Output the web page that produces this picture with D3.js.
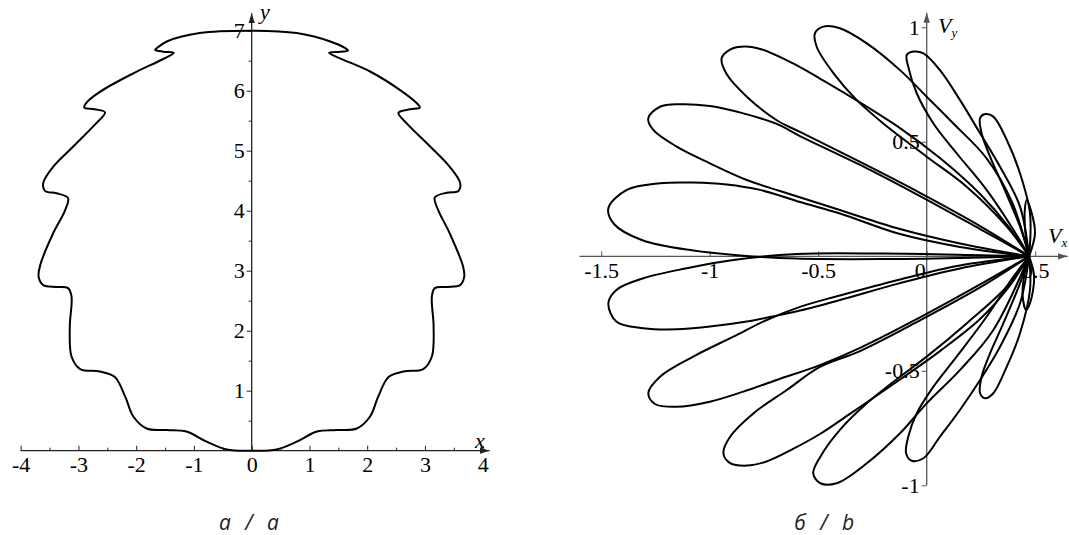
<!DOCTYPE html>
<html>
<head>
<meta charset="utf-8">
<script src="https://cdn.jsdelivr.net/npm/d3@7"></script>
<style>
  html, body { margin: 0; padding: 0; background: #fff; overflow: hidden; }
  svg { display: block; }
</style>
</head>
<body>
<svg id="chart" width="1069" height="535"></svg>
<script>
// ---------- panel a: trajectory (x, y) ----------
const xTicksA = [-4, -3, -2, -1, 0, 1, 2, 3, 4];
const xMinorA = [-3.5, -2.5, -1.5, -0.5, 0.5, 1.5, 2.5, 3.5];
const yTicksA = [1, 2, 3, 4, 5, 6, 7];
const yMinorA = [0.5, 1.5, 2.5, 3.5, 4.5, 5.5, 6.5];
const xAxisSpanA = [-4, 4.12];
const yAxisSpanA = [0, 7.29];

// right half of the trajectory, from the origin up to the top
const trajRight = [
  [0, 0], [0.43, 0.02], [0.78, 0.15], [1.13, 0.32], [1.47, 0.345], [1.82, 0.37],
  [2.05, 0.57], [2.19, 0.90], [2.37, 1.23], [2.63, 1.32], [2.97, 1.36], [3.12, 1.57],
  [3.15, 2.07], [3.12, 2.57], [3.17, 2.71], [3.38, 2.73], [3.61, 2.76], [3.68, 2.90],
  [3.66, 3.07], [3.43, 3.62], [3.23, 4.01], [3.17, 4.22], [3.38, 4.30], [3.58, 4.33],
  [3.61, 4.46], [3.43, 4.73], [3.09, 5.07], [2.68, 5.46], [2.54, 5.63], [2.74, 5.69],
  [2.91, 5.72], [2.86, 5.79], [2.57, 6.01], [2.05, 6.32], [1.53, 6.54], [1.34, 6.63],
  [1.53, 6.65], [1.67, 6.67], [1.62, 6.71], [1.36, 6.82], [0.78, 6.96], [0, 7]
];
// left half of the trajectory, from the top back down to the origin
const trajLeft = [
  [-0.90, 6.96], [-1.47, 6.82], [-1.64, 6.71], [-1.67, 6.68], [-1.53, 6.65], [-1.35, 6.63],
  [-1.55, 6.52], [-2.05, 6.29], [-2.63, 5.98], [-2.87, 5.79], [-2.90, 5.72], [-2.72, 5.69],
  [-2.54, 5.64], [-2.72, 5.43], [-3.09, 5.07], [-3.44, 4.73], [-3.61, 4.46], [-3.58, 4.33],
  [-3.38, 4.29], [-3.18, 4.21], [-3.23, 4.01], [-3.44, 3.62], [-3.66, 3.10], [-3.69, 2.90],
  [-3.61, 2.76], [-3.38, 2.73], [-3.18, 2.71], [-3.12, 2.57], [-3.15, 2.07], [-3.12, 1.57],
  [-2.97, 1.36], [-2.63, 1.32], [-2.37, 1.23], [-2.19, 0.90], [-2.05, 0.57], [-1.82, 0.37],
  [-1.47, 0.345], [-1.13, 0.32], [-0.78, 0.15], [-0.43, 0.02]
];

// ---------- panel b: hodograph (Vx, Vy) ----------
const xTicksB = [-1.5, -1, -0.5, 0, 0.5];
const yTicksB = [-1, -0.5, 0.5, 1];
const xAxisSpanB = [-1.6, 0.65];
const yAxisSpanB = [-1, 1.064];
const hub = [0.472, 0];

// each loop leaves the hub, rounds its tip and comes back to the hub
const loopUp1 = [[0.499, 0.10], [0.484, 0.188], [0.461, 0.246], [0.452, 0.20], [0.455, 0.10]];
const loopUp2 = [[0.476, 0.188], [0.43, 0.362], [0.369, 0.508], [0.307, 0.61], [0.269, 0.621],
  [0.246, 0.603], [0.253, 0.537], [0.292, 0.435], [0.353, 0.304], [0.43, 0.13]];
const loopUp3 = [[0.43, 0.217], [0.338, 0.391], [0.246, 0.537], [0.153, 0.683], [0.061, 0.813],
  [-0.015, 0.886], [-0.06, 0.894], [-0.092, 0.879], [-0.085, 0.828], [-0.046, 0.712],
  [0.031, 0.58], [0.138, 0.45], [0.276, 0.29], [0.40, 0.115]];
const loopUp4 = [[0.393, 0.237], [0.276, 0.428], [0.123, 0.58], [0, 0.697], [-0.123, 0.813],
  [-0.276, 0.93], [-0.40, 0.996], [-0.476, 1.003], [-0.515, 0.974], [-0.507, 0.915],
  [-0.43, 0.80], [-0.323, 0.683], [-0.2, 0.58], [0, 0.435], [0.184, 0.304], [0.369, 0.13]];
const loopUp5 = [[0.375, 0.132], [0.246, 0.272], [0.061, 0.429], [-0.123, 0.560], [-0.330, 0.685],
  [-0.492, 0.776], [-0.616, 0.842], [-0.759, 0.903], [-0.837, 0.916], [-0.906, 0.903],
  [-0.945, 0.865], [-0.922, 0.796], [-0.829, 0.697], [-0.691, 0.594], [-0.584, 0.543],
  [-0.307, 0.412], [-0.031, 0.277], [0.246, 0.132]];
const loopUp6 = [[0.246, 0.119], [-0.031, 0.263], [-0.307, 0.399], [-0.584, 0.525], [-0.691, 0.578],
  [-0.845, 0.624], [-0.999, 0.656], [-1.137, 0.664], [-1.229, 0.653], [-1.283, 0.603],
  [-1.260, 0.552], [-1.152, 0.479], [-0.999, 0.406], [-0.829, 0.333], [-0.676, 0.285],
  [-0.400, 0.202], [-0.123, 0.119], [0.153, 0.056]];
const loopUp7 = [[0.153, 0.041], [-0.123, 0.097], [-0.400, 0.187], [-0.584, 0.237], [-0.768, 0.290],
  [-0.922, 0.314], [-1.076, 0.322], [-1.229, 0.319], [-1.382, 0.290], [-1.467, 0.210],
  [-1.44, 0.14], [-1.31, 0.07], [-1.075, 0.025], [-0.86, 0.004], [-0.6, -0.01],
  [-0.2, -0.012], [0.2, -0.006]];
const loopDn7 = [[0.153, -0.053], [-0.123, -0.117], [-0.400, -0.191], [-0.584, -0.237], [-0.691, -0.259],
  [-0.829, -0.285], [-0.999, -0.307], [-1.152, -0.319], [-1.306, -0.314], [-1.429, -0.286],
  [-1.467, -0.205], [-1.43, -0.147], [-1.306, -0.096], [-1.106, -0.052], [-0.89, -0.016],
  [-0.6, 0.01], [-0.2, 0.012], [0.2, 0.006]];
const loopDn6 = [[0.246, -0.123], [-0.031, -0.267], [-0.307, -0.400], [-0.492, -0.475], [-0.691, -0.540],
  [-0.845, -0.591], [-0.999, -0.635], [-1.152, -0.657], [-1.252, -0.645], [-1.283, -0.598],
  [-1.229, -0.526], [-1.076, -0.438], [-0.891, -0.351], [-0.737, -0.278], [-0.584, -0.221],
  [-0.400, -0.171], [-0.123, -0.101], [0.153, -0.040]];
const loopDn5 = [[0.375, -0.138], [0.246, -0.274], [0.061, -0.414], [-0.123, -0.538], [-0.354, -0.688],
  [-0.492, -0.776], [-0.616, -0.841], [-0.745, -0.898], [-0.829, -0.914], [-0.906, -0.903],
  [-0.937, -0.860], [-0.906, -0.788], [-0.799, -0.686], [-0.645, -0.584], [-0.492, -0.483],
  [-0.307, -0.414], [-0.031, -0.280], [0.246, -0.136]];
const loopDn4 = [[0.307, -0.322], [0.153, -0.497], [0, -0.642], [-0.123, -0.773], [-0.276, -0.904],
  [-0.415, -0.991], [-0.49, -0.991], [-0.523, -0.948], [-0.49, -0.875], [-0.40, -0.758],
  [-0.276, -0.642], [-0.123, -0.526], [0, -0.438], [0.184, -0.293], [0.369, -0.133]];
const loopDn3 = [[0.43, -0.205], [0.338, -0.395], [0.246, -0.54], [0.153, -0.671], [0.061, -0.788],
  [-0.015, -0.882], [-0.069, -0.893], [-0.095, -0.86], [-0.085, -0.788], [-0.046, -0.686],
  [0.031, -0.569], [0.138, -0.438], [0.276, -0.264], [0.40, -0.089]];
const loopDn2 = [[0.476, -0.147], [0.43, -0.336], [0.369, -0.482], [0.307, -0.598], [0.269, -0.62],
  [0.246, -0.598], [0.253, -0.526], [0.292, -0.424], [0.353, -0.293], [0.43, -0.118]];
const loopDn1 = [[0.495, -0.089], [0.476, -0.205], [0.458, -0.234], [0.442, -0.17], [0.45, -0.08]];

const loops = [loopUp1, loopUp2, loopUp3, loopUp4, loopUp5, loopUp6, loopUp7,
               loopDn7, loopDn6, loopDn5, loopDn4, loopDn3, loopDn2, loopDn1];

// ---------- drawing ----------
const SERIF = '"Liberation Serif", "Times New Roman", Times, serif';
const svg = d3.select("#chart");
const defs = svg.append("defs");
function arrowMarker(id, color) {
  defs.append("marker").attr("id", id)
    .attr("viewBox", "0 0 10 8").attr("refX", 10).attr("refY", 4)
    .attr("markerWidth", 10).attr("markerHeight", 8)
    .attr("markerUnits", "userSpaceOnUse").attr("orient", "auto")
    .append("path").attr("d", "M0,0.8 L10,4 L0,7.2 Z").attr("fill", color);
}
arrowMarker("arrA", "#222");
arrowMarker("arrB", "#555");

// panel a scales
const xA = d3.scaleLinear().domain([-4, 4]).range([20.7, 482.7]);
const yA = d3.scaleLinear().domain([0, 7]).range([450.7, 30.7]);
// panel b scales
const xB = d3.scaleLinear().domain([-1.5, 0.5]).range([601.2, 1035.2]);
const yB = d3.scaleLinear().domain([-1, 1]).range([485.3, 27.3]);

const fmt = d => String(d);

// shared look of the tick labels
function styleTicks(g, color) {
  g.select(".domain").remove();
  g.attr("font-family", SERIF).attr("font-size", 22);
  g.selectAll(".tick line").attr("stroke", color);
  g.selectAll(".tick text").attr("fill", "#000")
    .style("font-family", SERIF).style("font-size", "22px");
}

// ----- panel a axes -----
const gA = svg.append("g");
gA.append("g").attr("transform", `translate(0,${yA(0)})`)
  .call(d3.axisBottom(xA).tickValues(xMinorA).tickSizeInner(-3).tickSizeOuter(0).tickFormat(""))
  .call(styleTicks, "#222");
gA.append("g").attr("transform", `translate(0,${yA(0)})`)
  .call(d3.axisBottom(xA).tickValues(xTicksA).tickSizeInner(-5).tickSizeOuter(0).tickPadding(6).tickFormat(fmt))
  .call(styleTicks, "#222");
gA.append("g").attr("transform", `translate(${xA(0)},0)`)
  .call(d3.axisLeft(yA).tickValues(yMinorA).tickSizeInner(3).tickSizeOuter(0).tickFormat(""))
  .call(styleTicks, "#222");
gA.append("g").attr("transform", `translate(${xA(0)},0)`)
  .call(d3.axisLeft(yA).tickValues(yTicksA).tickSizeInner(5).tickSizeOuter(0).tickPadding(2).tickFormat(fmt))
  .call(styleTicks, "#222");
gA.append("line")
  .attr("x1", xA(xAxisSpanA[0])).attr("x2", xA(xAxisSpanA[1]))
  .attr("y1", yA(0)).attr("y2", yA(0))
  .attr("stroke", "#222").attr("stroke-width", 1.3).attr("marker-end", "url(#arrA)");
gA.append("line")
  .attr("x1", xA(0)).attr("x2", xA(0))
  .attr("y1", yA(yAxisSpanA[0])).attr("y2", yA(yAxisSpanA[1]))
  .attr("stroke", "#222").attr("stroke-width", 1.3).attr("marker-end", "url(#arrA)");
gA.append("text").attr("x", 475).attr("y", 448)
  .style("font-family", SERIF).style("font-style", "italic").style("font-size", "22px").text("x");
gA.append("text").attr("x", 260).attr("y", 19)
  .style("font-family", SERIF).style("font-style", "italic").style("font-size", "22px").text("y");

// trajectory
const lineA = d3.line().x(d => xA(d[0])).y(d => yA(d[1])).curve(d3.curveCatmullRomClosed.alpha(0.5));
gA.append("path")
  .attr("d", lineA(trajRight.concat(trajLeft)))
  .attr("fill", "none").attr("stroke", "#000").attr("stroke-width", 2);

// ----- panel b axes -----
const gB = svg.append("g");
gB.append("g").attr("transform", `translate(0,${yB(0)})`)
  .call(d3.axisBottom(xB).tickValues(xTicksB).tickSizeInner(-5).tickSizeOuter(0).tickPadding(6).tickFormat(fmt))
  .call(styleTicks, "#555")
  .call(g => g.selectAll(".tick").filter(d => d === 0).select("text").attr("dx", -7));
gB.append("g").attr("transform", `translate(${xB(0)},0)`)
  .call(d3.axisLeft(yB).tickValues(yTicksB).tickSizeInner(5).tickSizeOuter(0).tickPadding(2).tickFormat(fmt))
  .call(styleTicks, "#555");
gB.append("line")
  .attr("x1", xB(xAxisSpanB[0])).attr("x2", xB(xAxisSpanB[1]))
  .attr("y1", yB(0)).attr("y2", yB(0))
  .attr("stroke", "#555").attr("stroke-width", 1.3).attr("marker-end", "url(#arrB)");
gB.append("line")
  .attr("x1", xB(0)).attr("x2", xB(0))
  .attr("y1", yB(yAxisSpanB[0])).attr("y2", yB(yAxisSpanB[1]))
  .attr("stroke", "#555").attr("stroke-width", 1.3).attr("marker-end", "url(#arrB)");
function axisTitle(x, y, main, sub) {
  const t = gB.append("text").attr("x", x).attr("y", y)
    .style("font-family", SERIF).style("font-style", "italic").style("font-size", "22px");
  t.append("tspan").text(main);
  t.append("tspan").style("font-size", "13px").attr("dy", 4).text(sub);
}
axisTitle(938, 33, "V", "y");
axisTitle(1048, 243, "V", "x");

// hodograph loops
const lineB = d3.line().x(d => xB(d[0])).y(d => yB(d[1])).curve(d3.curveCatmullRom.alpha(0.5));
gB.selectAll("path.loop").data(loops).join("path")
  .attr("class", "loop")
  .attr("d", d => lineB([hub].concat(d, [hub])))
  .attr("fill", "none").attr("stroke", "#000").attr("stroke-width", 2);

// captions
function caption(cx, parts) {
  const t = svg.append("text").attr("y", 530)
    .style("font-family", '"Open Sans", "DejaVu Sans", sans-serif')
    .style("font-style", "italic").style("font-size", "21px").attr("fill", "#222");
  parts.forEach((p, i) => t.append("tspan").attr("x", cx + (i - 1) * 24).attr("text-anchor", "middle").text(p));
}
caption(249, ["а", "/", "a"]);
caption(824, ["б", "/", "b"]);
</script>
</body>
</html>
